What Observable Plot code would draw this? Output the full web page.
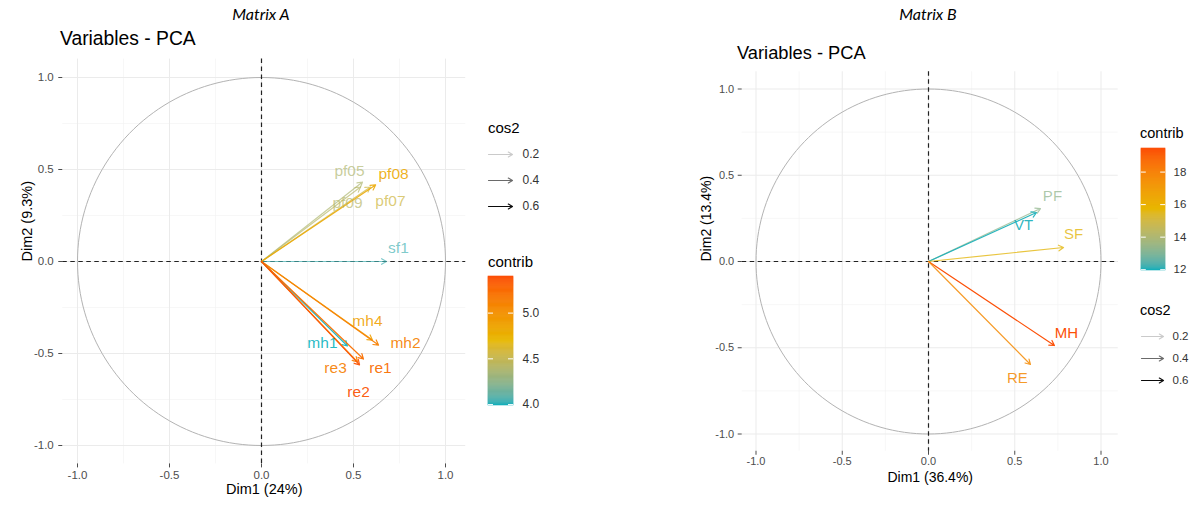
<!DOCTYPE html>
<html>
<head>
<meta charset="utf-8">
<script src="https://cdn.jsdelivr.net/npm/d3@7"></script>
<script src="https://cdn.jsdelivr.net/npm/@observablehq/plot@0.6"></script>
<style>
  html, body { margin: 0; padding: 0; background: #fff; }
  #root { position: relative; width: 1193px; height: 506px; background: #fff; overflow: hidden;
          font-family: "Liberation Sans", Arial, sans-serif; }
  .abs { position: absolute; }
  .ttl { position: absolute; line-height: 1; transform: translateY(-50%); white-space: nowrap; color: #000; }
  .mtx { position: absolute; line-height: 1; transform: translate(-50%, -50%); white-space: nowrap;
         font-family: Lato, "Open Sans", sans-serif; font-style: italic; color: #000; }
</style>
</head>
<body>
<div id="root"></div>
<script>
// ---------------- DATA ----------------
// Matrix A
const varsA    = ["pf05", "pf09", "pf07", "pf08", "sf1", "mh4", "mh2", "mh1", "re1", "re3", "re2"];
const dim1A    = [0.549, 0.538, 0.592, 0.620, 0.679, 0.603, 0.636, 0.467, 0.554, 0.522, 0.533];
const dim2A    = [0.432, 0.405, 0.405, 0.416, 0.000, -0.427, -0.454, -0.459, -0.530, -0.546, -0.562];
const contribA = [4.38, 4.42, 4.55, 4.82, 4.04, 4.88, 5.12, 3.99, 5.22, 5.12, 5.36];
const cos2A    = [0.45, 0.45, 0.48, 0.56, 0.45, 0.56, 0.58, 0.55, 0.60, 0.58, 0.60];
// Matrix B
const varsB    = ["PF", "VT", "SF", "MH", "RE"];
const dim1B    = [0.649, 0.626, 0.783, 0.730, 0.591];
const dim2B    = [0.307, 0.284, 0.081, -0.487, -0.597];
const contribB = [13.3, 12.0, 15.6, 19.4, 17.6];
const cos2B    = [0.47, 0.58, 0.52, 0.62, 0.54];

// tick labels / legend breaks
const axisTicks  = [-1, -0.5, 0, 0.5, 1];
const minorTicks = [-0.75, -0.25, 0.25, 0.75];
const cos2Breaks = [0.2, 0.4, 0.6];
const contribBreaksA = [4.0, 4.5, 5.0];
const contribBreaksB = [12, 14, 16, 18];
const contribLimitsA = [3.99, 5.40];
const contribLimitsB = [11.95, 19.45];
const axisTitlesA = ["Dim1 (24%)", "Dim2 (9.3%)"];
const axisTitlesB = ["Dim1 (36.4%)", "Dim2 (13.4%)"];

// ---------------- STYLE / LAYOUT ----------------
const gradient = ["#00AFBB", "#E7B800", "#FC4E07"];
const FONT = '"Liberation Sans", Arial, sans-serif';
const opacityScale = {type: "linear", domain: [0.17, 0.62], range: [0.15, 1], clamp: true};

// label nudges in pixels (text centre relative to arrow tip)
const nudgeA = {
  pf05: [-13, -11], pf08: [18, -11], pf09: [-13, 16], pf07: [20, 14], sf1: [12, -13],
  mh4: [-5, -19], mh2: [27, -2], mh1: [-25, -3], re1: [17, 9], re3: [-22, 6], re2: [-1, 27]
};
const nudgeB = { PF: [12, -12], VT: [-13, 13], SF: [10, -13], MH: [12, -12], RE: [-13, 14] };

const cfgA = { left: 0, width: 470, height: 506, cx: 261, cy: 261, unit: 184,
  xdom: [-1.08, 1.11], ydom: [-1.1, 1.1], tickFont: 11.5, titleFont: 14.5, labelFont: 15.5,
  xTitleDy: 30, yTitleDx: -35, yTickPad: 5, xTickPad: 3 };
const cfgB = { left: 680, width: 450, height: 506, cx: 928, cy: 261, unit: 172.5,
  xdom: [-1.08, 1.1], ydom: [-1.1, 1.1], tickFont: 11, titleFont: 14, labelFont: 15,
  xTitleDy: 31, yTitleDx: -36, yTickPad: 4, xTickPad: 2 };

const root = document.getElementById("root");

function colorScale(lim) {
  return {type: "linear", domain: [lim[0], (lim[0] + lim[1]) / 2, lim[1]], range: gradient, interpolate: "lab"};
}

function makeRows(names, d1, d2, contrib, cos2) {
  return names.map((n, i) => ({name: n, x: d1[i], y: d2[i], contrib: contrib[i], cos2: cos2[i]}));
}

const circle = d3.range(0, 361, 2).map(a => [Math.cos(a * Math.PI / 180), Math.sin(a * Math.PI / 180)]);
const opa = v => ({value: v, scale: "opacity"});

function panel(cfg, rows, nudge, limits, titles) {
  const mL = cfg.cx + cfg.xdom[0] * cfg.unit - cfg.left;
  const mR = cfg.left + cfg.width - (cfg.cx + cfg.xdom[1] * cfg.unit);
  const mT = cfg.cy - cfg.ydom[1] * cfg.unit;
  const mB = cfg.height - (cfg.cy - cfg.ydom[0] * cfg.unit);
  const fmt = d => d.toFixed(1);
  const labelMarks = rows.map(r => Plot.text([r], {
    x: "x", y: "y", text: "name", fill: "contrib", fillOpacity: opa("cos2"),
    dx: nudge[r.name][0], dy: nudge[r.name][1], fontSize: cfg.labelFont
  }));
  const svg = Plot.plot({
    width: cfg.width, height: cfg.height,
    marginLeft: mL, marginRight: mR, marginTop: mT, marginBottom: mB,
    x: {domain: cfg.xdom},
    y: {domain: cfg.ydom},
    color: colorScale(limits),
    opacity: opacityScale,
    style: {fontFamily: FONT, background: "transparent", overflow: "visible"},
    marks: [
      Plot.gridX(minorTicks, {stroke: "#F2F2F2", strokeOpacity: 1, strokeWidth: 0.6}),
      Plot.gridY(minorTicks, {stroke: "#F2F2F2", strokeOpacity: 1, strokeWidth: 0.6}),
      Plot.gridX(axisTicks, {stroke: "#EBEBEB", strokeOpacity: 1, strokeWidth: 1}),
      Plot.gridY(axisTicks, {stroke: "#EBEBEB", strokeOpacity: 1, strokeWidth: 1}),
      Plot.axisX({ticks: axisTicks, tickFormat: fmt, tickSize: 4, tickPadding: cfg.xTickPad,
        fontSize: cfg.tickFont, color: "#4D4D4D", label: null}),
      Plot.axisY({ticks: axisTicks, tickFormat: fmt, tickSize: 4, tickPadding: cfg.yTickPad,
        fontSize: cfg.tickFont, color: "#4D4D4D", label: null}),
      Plot.line(circle, {stroke: "#B3B3B3", strokeWidth: 1}),
      Plot.ruleX([0], {stroke: "#222", strokeWidth: 1.2, strokeDasharray: "4.5,3.5"}),
      Plot.ruleY([0], {stroke: "#222", strokeWidth: 1.2, strokeDasharray: "4.5,3.5"}),
      Plot.arrow(rows, {x1: 0, y1: 0, x2: "x", y2: "y", stroke: "contrib", strokeOpacity: opa("cos2"),
        strokeWidth: 1.2, headLength: 7}),
      ...labelMarks,
      Plot.text([titles[0]], {frameAnchor: "bottom", text: d => d, dy: cfg.xTitleDy,
        fontSize: cfg.titleFont, fill: "#000"}),
      Plot.text([titles[1]], {frameAnchor: "left", text: d => d, dx: cfg.yTitleDx, rotate: -90,
        fontSize: cfg.titleFont, fill: "#000"})
    ]
  });
  svg.classList.add("abs");
  svg.style.left = cfg.left + "px";
  svg.style.top = "0px";
  root.appendChild(svg);
}

function colorbar(o) {
  const n = 120;
  const step = (o.limits[1] - o.limits[0]) / n;
  const slices = d3.range(n).map(i => [o.limits[0] + i * step, o.limits[0] + (i + 1) * step]);
  const svg = Plot.plot({
    width: o.w + 40, height: o.h,
    marginLeft: 0, marginRight: 40, marginTop: 0, marginBottom: 0,
    x: {domain: [0, 1], axis: null},
    y: {domain: o.limits},
    color: colorScale(o.limits),
    style: {fontFamily: FONT, background: "transparent", overflow: "visible"},
    marks: [
      Plot.rect(slices, {x1: 0, x2: 1, y1: d => d[0], y2: d => d[1], fill: d => (d[0] + d[1]) / 2,
        stroke: d => (d[0] + d[1]) / 2, strokeWidth: 0.6}),
      Plot.ruleY(o.breaks, {x1: 0, x2: 0.2, stroke: "white", strokeWidth: 1}),
      Plot.ruleY(o.breaks, {x1: 0.8, x2: 1, stroke: "white", strokeWidth: 1}),
      Plot.axisY({anchor: "right", ticks: o.breaks, tickFormat: o.fmt, tickSize: 0, tickPadding: o.pad,
        fontSize: o.font, color: "#333", label: null})
    ]
  });
  svg.classList.add("abs");
  svg.style.left = o.left + "px";
  svg.style.top = o.top + "px";
  root.appendChild(svg);
}

function cos2Legend(o) {
  const svg = Plot.plot({
    width: o.w + 40, height: o.h + 20,
    marginLeft: 0, marginRight: 40, marginTop: 10, marginBottom: 10,
    x: {domain: [0, 1], axis: null},
    y: {domain: [0.2, 0.6], range: [10, 10 + o.h], axis: null},
    opacity: opacityScale,
    style: {fontFamily: FONT, background: "transparent", overflow: "visible"},
    marks: [
      Plot.arrow(cos2Breaks, {x1: 0, x2: 1, y1: d => d, y2: d => d, stroke: "#000",
        strokeOpacity: opa(d => d), strokeWidth: 1.2, headLength: 6}),
      Plot.text(cos2Breaks, {x: 1, y: d => d, text: d => d.toFixed(1), dx: o.pad, textAnchor: "start",
        fontSize: o.font, fill: "#333"})
    ]
  });
  svg.classList.add("abs");
  svg.style.left = o.left + "px";
  svg.style.top = (o.top - 10) + "px";
  root.appendChild(svg);
}

function html(cls, text, left, top, size) {
  const d = document.createElement("div");
  d.className = cls;
  d.textContent = text;
  d.style.left = left + "px";
  d.style.top = top + "px";
  d.style.fontSize = size + "px";
  root.appendChild(d);
}

// ---------------- DRAW ----------------
panel(cfgA, makeRows(varsA, dim1A, dim2A, contribA, cos2A), nudgeA, contribLimitsA, axisTitlesA);
panel(cfgB, makeRows(varsB, dim1B, dim2B, contribB, cos2B), nudgeB, contribLimitsB, axisTitlesB);

html("mtx", "Matrix A", 261, 14, 16);
html("mtx", "Matrix B", 928, 14, 16);
html("ttl", "Variables - PCA", 60, 39, 19.3);
html("ttl", "Variables - PCA", 737, 53, 18.3);

// Legends A
html("ttl", "cos2", 488, 127, 15);
cos2Legend({left: 488, top: 154, w: 24, h: 52, pad: 10, font: 12});
html("ttl", "contrib", 488, 261, 15);
colorbar({left: 488, top: 276, w: 25, h: 129, limits: contribLimitsA, breaks: contribBreaksA,
  fmt: d => d.toFixed(1), pad: 9, font: 12});

// Legends B
html("ttl", "contrib", 1140, 133, 14.5);
colorbar({left: 1141, top: 148, w: 24, h: 122, limits: contribLimitsB, breaks: contribBreaksB,
  fmt: d => String(d), pad: 8, font: 11.5});
html("ttl", "cos2", 1140, 310, 14.5);
cos2Legend({left: 1141, top: 336, w: 22, h: 44, pad: 9, font: 11.5});
</script>
</body>
</html>
